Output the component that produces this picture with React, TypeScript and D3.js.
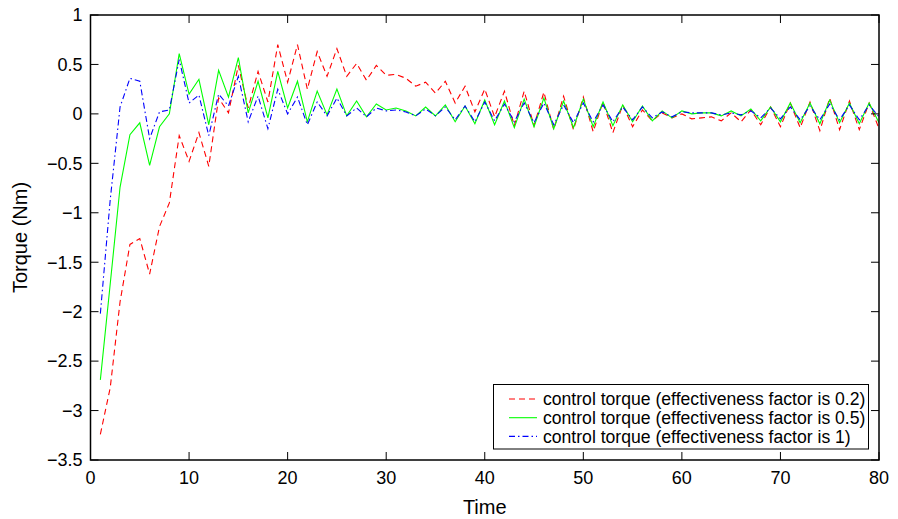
import React from 'react';
import * as d3 from 'd3';

// values, time steps 1..80
const times = d3.range(1, 81);

const torque02 = [
  -3.24, -2.77, -1.9, -1.32, -1.26, -1.62, -1.14, -0.9, -0.22, -0.48,
  -0.19, -0.53, 0.16, 0.01, 0.49, 0.06, 0.43, 0.12, 0.7, 0.32,
  0.7, 0.25, 0.63, 0.38, 0.66, 0.38, 0.51, 0.34, 0.49, 0.39,
  0.4, 0.36, 0.28, 0.32, 0.21, 0.33, 0.11, 0.28, 0.02, 0.25,
  -0.03, 0.23, -0.12, 0.23, -0.12, 0.22, -0.16, 0.18, -0.16, 0.17,
  -0.18, 0.12, -0.19, 0.09, -0.13, 0.04, -0.07, 0.01, -0.04, 0.0,
  -0.05, -0.04, -0.03, -0.07, 0.01, -0.08, 0.04, -0.11, 0.07, -0.13,
  0.11, -0.14, 0.12, -0.17, 0.16, -0.16, 0.13, -0.16, 0.11, -0.15,
];

const torque05 = [
  -2.69, -1.72, -0.74, -0.21, -0.09, -0.52, -0.13, 0.0, 0.61, 0.2,
  0.35, -0.11, 0.44, 0.17, 0.57, 0.01, 0.33, -0.04, 0.43, 0.06,
  0.33, -0.08, 0.23, -0.01, 0.25, -0.02, 0.13, -0.03, 0.1, 0.04,
  0.06, 0.03, -0.02, 0.07, -0.02, 0.09, -0.08, 0.08, -0.1, 0.14,
  -0.11, 0.13, -0.14, 0.15, -0.13, 0.16, -0.15, 0.13, -0.14, 0.15,
  -0.13, 0.12, -0.12, 0.09, -0.08, 0.08, -0.07, 0.03, -0.04, 0.03,
  0.0, 0.01, 0.01, -0.02, 0.03, -0.02, 0.05, -0.07, 0.07, -0.08,
  0.11, -0.09, 0.11, -0.1, 0.14, -0.09, 0.11, -0.1, 0.11, -0.09,
];

const torque1 = [
  -2.02, -0.87, 0.07, 0.36, 0.33, -0.25, 0.02, 0.04, 0.55, 0.11,
  0.19, -0.22, 0.2, 0.08, 0.38, -0.08, 0.18, -0.15, 0.25, 0.0,
  0.17, -0.11, 0.12, -0.02, 0.16, -0.02, 0.06, -0.03, 0.06, 0.03,
  0.04, 0.02, -0.02, 0.05, -0.02, 0.07, -0.06, 0.08, -0.08, 0.12,
  -0.07, 0.1, -0.08, 0.11, -0.09, 0.11, -0.11, 0.09, -0.09, 0.11,
  -0.08, 0.09, -0.08, 0.07, -0.06, 0.07, -0.04, 0.02, -0.03, 0.02,
  0.01, 0.01, 0.01, -0.01, 0.01, -0.01, 0.03, -0.04, 0.06, -0.05,
  0.07, -0.06, 0.08, -0.06, 0.1, -0.06, 0.09, -0.06, 0.09, -0.03,
];

const xTicks = [0, 10, 20, 30, 40, 50, 60, 70, 80];
const yTicks = [-3.5, -3, -2.5, -2, -1.5, -1, -0.5, 0, 0.5, 1];

const seriesList = [
  { name: 'control torque (effectiveness factor is 0.2)', values: torque02, color: '#ff0000', dash: '6,4' },
  { name: 'control torque (effectiveness factor is 0.5)', values: torque05, color: '#00ff00', dash: null },
  { name: 'control torque (effectiveness factor is 1)', values: torque1, color: '#0000ff', dash: '6,3,1.5,3' },
];

const width = 898;
const height = 519;
const margin = { top: 15, right: 19, bottom: 59, left: 90.5 };
const font = '"Liberation Sans", Arial, Helvetica, sans-serif';

const fmt = (v: number) => (v < 0 ? '\u2212' + String(-v) : String(v));

const App = () => {
  const x = d3.scaleLinear().domain([0, 80]).range([margin.left, width - margin.right]);
  const y = d3.scaleLinear().domain([-3.5, 1]).range([height - margin.bottom, margin.top]);

  const line = d3.line<number>()
    .x((_, i) => x(times[i]))
    .y(d => y(d));

  const x0 = x(0), x1 = x(80), y0 = y(-3.5), y1 = y(1);
  const tickLen = 8;

  return (
    <svg width={width} height={height} style={{ position: 'absolute', left: 0, top: 0, background: '#fff' }}
      fontFamily={font}>
      <rect x={0} y={0} width={width} height={height} fill="#fff" />

      <defs>
        <clipPath id="plot-clip">
          <rect x={x0} y={y1} width={x1 - x0} height={y0 - y1} />
        </clipPath>
      </defs>

      <g clipPath="url(#plot-clip)">
        {seriesList.map(s => (
          <path key={s.name} d={line(s.values) || ''} fill="none" stroke={s.color}
            strokeWidth={1.1} strokeDasharray={s.dash || undefined} />
        ))}
      </g>

      {/* ticks on all four sides, pointing inward */}
      {xTicks.map(t => (
        <g key={'x' + t}>
          <line x1={x(t)} x2={x(t)} y1={y0} y2={y0 - tickLen} stroke="#000" />
          <line x1={x(t)} x2={x(t)} y1={y1} y2={y1 + tickLen} stroke="#000" />
          <text x={x(t)} y={y0 + 24} textAnchor="middle" fontSize={18}>{t}</text>
        </g>
      ))}
      {yTicks.map(t => (
        <g key={'y' + t}>
          <line x1={x0} x2={x0 + tickLen} y1={y(t)} y2={y(t)} stroke="#000" />
          <line x1={x1} x2={x1 - tickLen} y1={y(t)} y2={y(t)} stroke="#000" />
          <text x={x0 - 8} y={y(t)} dy="0.35em" textAnchor="end" fontSize={18}>{fmt(t)}</text>
        </g>
      ))}

      <rect x={x0} y={y1} width={x1 - x0} height={y0 - y1} fill="none" stroke="#000" strokeWidth={1.5} />

      <text x={(x0 + x1) / 2} y={y0 + 54} textAnchor="middle" fontSize={20}>Time</text>
      <text transform={`translate(27,${(y0 + y1) / 2}) rotate(-90)`} textAnchor="middle" fontSize={20}>Torque (Nm)</text>

      {/* legend */}
      <g>
        <rect x={493.5} y={384.5} width={375} height={64.5} fill="#fff" stroke="#000" strokeWidth={1} />
        {seriesList.map((s, i) => {
          const cy = 399 + i * 18.7;
          return (
            <g key={'leg' + i}>
              <line x1={509} x2={537} y1={cy} y2={cy} stroke={s.color} strokeWidth={1.1}
                strokeDasharray={s.dash || undefined} />
              <text x={543} y={cy} dy="0.35em" fontSize={17.6}>{s.name}</text>
            </g>
          );
        })}
      </g>
    </svg>
  );
};

export default App;
